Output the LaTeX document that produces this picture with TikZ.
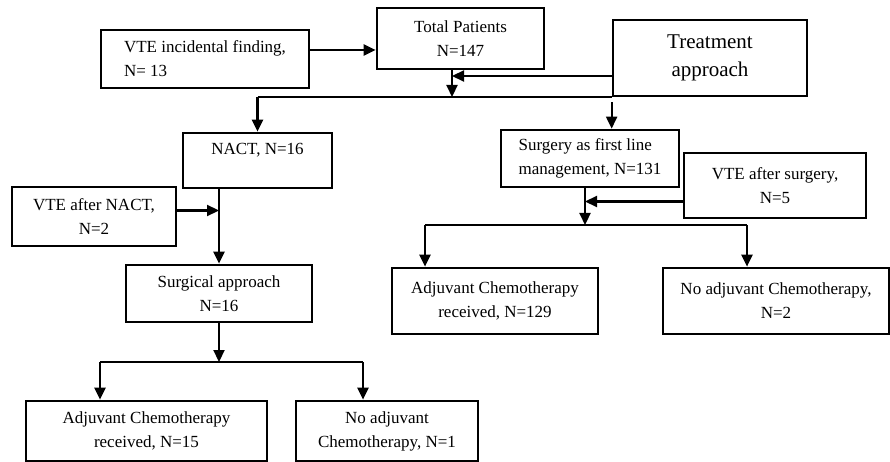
\documentclass[tikz,border=0pt]{standalone}
\usepackage{fontspec}
\setmainfont{Liberation Serif}
\usetikzlibrary{arrows.meta}

\begin{document}
\begin{tikzpicture}[x=1pt, y=-1pt,
  box/.style={draw, line width=2.7pt, align=center, inner sep=2pt,
    font=\fontsize{17}{24}\selectfont},
  arr/.style={line width=2.2pt, -{Triangle[width=11pt,length=12pt]}},
  rail/.style={line width=1.4pt}]
\useasboundingbox (0,0) rectangle (890,462);
\path (205,59) node[box, minimum width=208pt, minimum height=58pt, align=left] (inc) {VTE incidental finding,\\N= 13};
\path (460.5,38.5) node[box, minimum width=167pt, minimum height=61pt] (total) {Total Patients\\N=147};
\path (710,58) node[box, minimum width=194pt, minimum height=76pt, font=\fontsize{21}{28}\selectfont] (treat) {Treatment\\approach};
\path (257.5,160.5) node[box, minimum width=149pt, minimum height=55pt] (nact) {NACT, N=16\\\mbox{}};
\path (94,216.5) node[box, minimum width=164pt, minimum height=59pt] (vnact) {VTE after NACT,\\N=2};
\path (219,293.5) node[box, minimum width=186pt, minimum height=57pt] (surg) {Surgical approach\\N=16};
\path (146.5,431) node[box, minimum width=241pt, minimum height=60pt] (adjL) {Adjuvant Chemotherapy\\received, N=15};
\path (387,431) node[box, minimum width=182pt, minimum height=60pt] (noL) {No adjuvant\\Chemotherapy, N=1};
\path (590,158.5) node[box, minimum width=178pt, minimum height=57pt, align=left] (first) {Surgery as first line\\management, N=131};
\path (775,185.5) node[box, minimum width=182pt, minimum height=65pt] (vsurg) {VTE after surgery,\\N=5};
\path (495,301) node[box, minimum width=206pt, minimum height=66pt] (adjR) {Adjuvant Chemotherapy\\received, N=129};
\path (776,301) node[box, minimum width=226pt, minimum height=66pt] (noR) {No adjuvant Chemotherapy,\\N=2};

\coordinate (top) at (452,97);
\coordinate (mid) at (219,362);
\coordinate (midL) at (100,362);
\coordinate (midR) at (363,362);
\coordinate (low) at (585,225);
\coordinate (lowL) at (425,225);
\coordinate (lowR) at (747,225);

\draw[arr] ([yshift=9pt]inc.east) -- ([yshift=9pt]inc.east -| total.west);
\draw[arr] (total.south -| top) -- (top);
\draw[arr] ([yshift=-18pt]treat.west) coordinate (tw) -- (tw -| top);
\draw[rail] (nact.north |- top) -- (treat.south west |- top);
\draw[arr] (nact.north |- top) -- (nact.north);
\draw[arr] ([yshift=-5pt]treat.south west) -- (treat.south west |- first.north);

\draw[arr] (surg.north |- nact.south) -- (surg.north);
\draw[arr] ([yshift=6pt]vnact.east) -- ([yshift=6pt]vnact.east -| surg.north);
\draw[arr] (surg.south) -- (mid);
\draw[rail] (midL) -- (midR);
\draw[arr] (midL) -- (midL |- adjL.north);
\draw[arr] (midR) -- (midR |- noL.north);

\draw[arr] (first.south -| low) -- (low);
\draw[arr] ([yshift=-16pt]vsurg.west) -- ([yshift=-16pt]vsurg.west -| low);
\draw[rail] (lowL) -- (lowR);
\draw[arr] (lowL) -- (lowL |- adjR.north);
\draw[arr] (lowR) -- (lowR |- noR.north);
\end{tikzpicture}
\end{document}
